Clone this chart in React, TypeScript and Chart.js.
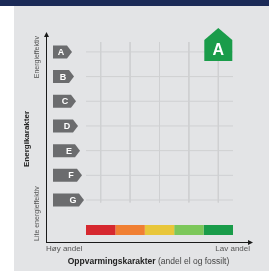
import React, { useEffect, useRef } from "react";
import { Chart, registerables } from "chart.js";

Chart.register(...registerables);

const energyLetters = ["A", "B", "C", "D", "E", "F", "G"];
const tagWidths = [19, 21, 23, 25, 27, 29, 31];
const heatingColors = ["#d6282f", "#f07f33", "#e8c63a", "#7cc75a", "#1a9c4a"];
const columnCenters = [0.5, 1.5, 2.5, 3.5, 4.5];
const energyGrade = "A";
const heatingGrade = 5; // 1..5 (5 = green)
const barRow = 7.22;

const FONT = "'Liberation Sans', Arial, sans-serif";

const decorPlugin = {
  id: "decor",
  beforeDraw(chart: any) {
    const ctx = chart.ctx;
    const W = chart.width, H = chart.height;
    ctx.save();
    ctx.fillStyle = "#ffffff";
    ctx.fillRect(0, 0, W, H);
    ctx.fillStyle = "#1b2a57";
    ctx.fillRect(0, 0, W, 6);
    ctx.fillStyle = "#e3e4e6";
    ctx.fillRect(14, 6, W - 14, H - 6);
    ctx.restore();
  },
  afterDatasetsDraw(chart: any) {
    const ctx = chart.ctx;
    const xs = chart.scales.x, ys = chart.scales.y;
    const ca = chart.chartArea;
    ctx.save();
    // axes
    const ax = ca.left - 40;
    const ay = 242;
    ctx.strokeStyle = "#1a1a1a";
    ctx.fillStyle = "#1a1a1a";
    ctx.lineWidth = 1;
    ctx.beginPath();
    ctx.moveTo(ax + 0.5, ay + 0.5);
    ctx.lineTo(ax + 0.5, 36);
    ctx.moveTo(ax, ay + 0.5);
    ctx.lineTo(250, ay + 0.5);
    ctx.stroke();
    ctx.beginPath();
    ctx.moveTo(ax + 0.5, 32);
    ctx.lineTo(ax - 2, 37);
    ctx.lineTo(ax + 3, 37);
    ctx.closePath();
    ctx.fill();
    ctx.beginPath();
    ctx.moveTo(253, ay + 0.5);
    ctx.lineTo(248, ay - 2);
    ctx.lineTo(248, ay + 3);
    ctx.closePath();
    ctx.fill();

    // tags
    energyLetters.forEach((L, i) => {
      const cy = ys.getPixelForValue(i);
      const x0 = 53;
      const w = tagWidths[i];
      const h = 13;
      const pt = 5;
      ctx.fillStyle = "#6b6c6e";
      ctx.beginPath();
      ctx.moveTo(x0, cy - h / 2);
      ctx.lineTo(x0 + w - pt, cy - h / 2);
      ctx.lineTo(x0 + w, cy);
      ctx.lineTo(x0 + w - pt, cy + h / 2);
      ctx.lineTo(x0, cy + h / 2);
      ctx.closePath();
      ctx.fill();
      ctx.fillStyle = "#ffffff";
      ctx.font = `bold 9px ${FONT}`;
      ctx.textAlign = "center";
      ctx.textBaseline = "middle";
      ctx.fillText(L, x0 + w - pt - 6, cy + 0.5);
    });

    // badge
    const gi = energyLetters.indexOf(energyGrade);
    const bx = xs.getPixelForValue(columnCenters[heatingGrade - 1]);
    const by = ys.getPixelForValue(gi) + 9;
    const bw = 28, bh = 33, roof = 12;
    ctx.fillStyle = heatingColors[heatingGrade - 1];
    ctx.beginPath();
    ctx.moveTo(bx, by - bh);
    ctx.lineTo(bx + bw / 2, by - bh + roof);
    ctx.lineTo(bx + bw / 2, by);
    ctx.lineTo(bx - bw / 2, by);
    ctx.lineTo(bx - bw / 2, by - bh + roof);
    ctx.closePath();
    ctx.fill();
    ctx.fillStyle = "#ffffff";
    ctx.font = `bold 16px ${FONT}`;
    ctx.textAlign = "center";
    ctx.textBaseline = "middle";
    ctx.fillText(energyGrade, bx, by - 10);

    // rotated labels
    const rot = (text: string, x: number, y: number, font: string, color: string, align: CanvasTextAlign) => {
      ctx.save();
      ctx.translate(x, y);
      ctx.rotate(-Math.PI / 2);
      ctx.font = font;
      ctx.fillStyle = color;
      ctx.textAlign = align;
      ctx.textBaseline = "middle";
      ctx.fillText(text, 0, 0);
      ctx.restore();
    };
    rot("Energieffektiv", 37, 36, `7px ${FONT}`, "#555", "right");
    rot("Lite energieffektiv", 37, 241, `7px ${FONT}`, "#555", "left");
    rot("Energikarakter", 27, 139, `bold 8px ${FONT}`, "#222", "center");

    // bottom labels
    ctx.textBaseline = "middle";
    ctx.font = `8px ${FONT}`;
    ctx.fillStyle = "#555";
    ctx.textAlign = "left";
    ctx.fillText("Høy andel", 46, 249);
    ctx.textAlign = "right";
    ctx.fillText("Lav andel", 250, 249);

    const boldPart = "Oppvarmingskarakter";
    const normPart = " (andel el og fossilt)";
    ctx.font = `bold 8.5px ${FONT}`;
    const w1 = ctx.measureText(boldPart).width;
    ctx.font = `8.5px ${FONT}`;
    const w2 = ctx.measureText(normPart).width;
    const sx = 148.5 - (w1 + w2) / 2;
    ctx.textAlign = "left";
    ctx.fillStyle = "#222";
    ctx.font = `bold 8.5px ${FONT}`;
    ctx.fillText(boldPart, sx, 262);
    ctx.font = `8.5px ${FONT}`;
    ctx.fillStyle = "#444";
    ctx.fillText(normPart, sx + w1, 262);
    ctx.restore();
  },
};

export default function App() {
  const ref = useRef<HTMLCanvasElement>(null);
  useEffect(() => {
    document.body.style.margin = "0";
    const gridColor = "#cfd0d2";
    const datasets: any[] = [];
    energyLetters.forEach((_, i) => {
      datasets.push({
        data: [{ x: 0, y: i }, { x: 5, y: i }],
        borderColor: gridColor,
        borderWidth: 1,
        showLine: true,
        pointRadius: 0,
      });
    });
    columnCenters.forEach((c) => {
      datasets.push({
        data: [{ x: c, y: -0.4 }, { x: c, y: 6.1 }],
        borderColor: gridColor,
        borderWidth: 1,
        showLine: true,
        pointRadius: 0,
      });
    });
    heatingColors.forEach((col, i) => {
      datasets.push({
        data: [{ x: i, y: barRow }, { x: i + 1, y: barRow }],
        borderColor: col,
        borderWidth: 10,
        borderCapStyle: "butt",
        showLine: true,
        pointRadius: 0,
      });
    });
    const chart = new Chart(ref.current!, {
      type: "scatter",
      data: { datasets },
      options: {
        animation: false,
        responsive: false,
        devicePixelRatio: 1,
        layout: { padding: { left: 86, right: 36, top: 42, bottom: 31.5 } },
        scales: {
          x: { type: "linear", min: 0, max: 5, display: false },
          y: { type: "linear", min: -0.4, max: 7.6, reverse: true, display: false },
        },
        plugins: { legend: { display: false }, tooltip: { enabled: false } },
      },
      plugins: [decorPlugin],
    });
    return () => chart.destroy();
  }, []);
  return (
    <div style={{ position: "absolute", left: 0, top: 0, width: 269, height: 271 }}>
      <canvas ref={ref} width={269} height={271} style={{ display: "block" }} />
    </div>
  );
}
